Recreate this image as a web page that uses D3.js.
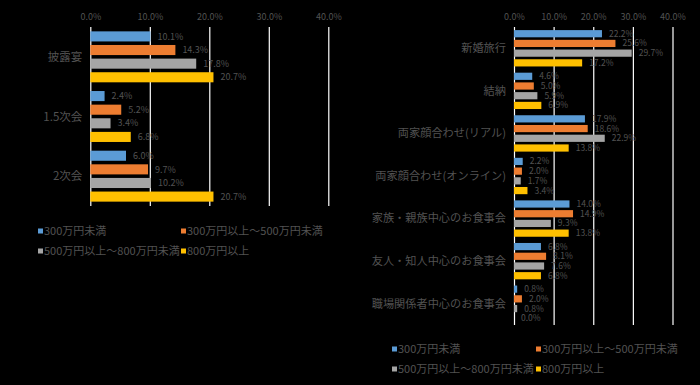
<!DOCTYPE html>
<html>
<head>
  <meta charset="utf-8">
  <style type="text/css">
    html, body { margin: 0; padding: 0; background: #000; }
    svg { display: block; }
    text { font-family: "Noto Sans CJK JP", "Liberation Sans", sans-serif; fill: #525252; }
  </style>
  <script src="https://d3js.org/d3.v7.min.js"></script>
</head>
<body>
  <div id="chart"></div>
  <script>
    // 共通の系列
    var seriesNames = ["300万円未満", "300万円以上～500万円未満", "500万円以上～800万円未満", "800万円以上"];
    var seriesColors = ["#5B9BD5", "#ED7D31", "#A5A5A5", "#FFC000"];
    var xTicks = [0, 10, 20, 30, 40];

    // 左のグラフ
    var leftCategories = ["披露宴", "1.5次会", "2次会"];
    var left300 = [10.1, 2.4, 6.0];
    var left500 = [14.3, 5.2, 9.7];
    var left800 = [17.8, 3.4, 10.2];
    var leftOver = [20.7, 6.8, 20.7];

    // 右のグラフ
    var rightCategories = ["新婚旅行", "結納", "両家顔合わせ(リアル)", "両家顔合わせ(オンライン)",
      "家族・親族中心のお食事会", "友人・知人中心のお食事会", "職場関係者中心のお食事会"];
    var right300 = [22.2, 4.6, 17.9, 2.2, 14.0, 6.8, 0.8];
    var right500 = [25.6, 5.0, 18.6, 2.0, 14.9, 8.1, 2.0];
    var right800 = [29.7, 5.9, 22.9, 1.7, 9.3, 7.6, 0.8];
    var rightOver = [17.2, 6.9, 13.8, 3.4, 13.8, 6.8, 0.0];

    var svg = d3.select("#chart").append("svg")
      .attr("width", 700)
      .attr("height", 385);

    function drawChart(opt) {
      var cats = opt.categories;
      var values = opt.values;

      var x = d3.scaleLinear().domain([0, 40]).range([opt.x0, opt.x1]);
      var y = d3.scaleBand().domain(cats).range([opt.y0, opt.y1]);
      var ySub = d3.scaleBand().domain(d3.range(4)).range([0, y.bandwidth()])
        .paddingInner(0.26).paddingOuter(0.32);

      var g = svg.append("g");

      // 目盛りとグリッド
      var axis = g.append("g")
        .attr("transform", "translate(0," + opt.y0 + ")")
        .call(d3.axisTop(x).tickValues(xTicks).tickSize(-(opt.y1 - opt.y0)).tickPadding(7)
          .tickFormat(function (d) { return d3.format(".1f")(d) + "%"; }));
      axis.select(".domain").remove();
      axis.selectAll("line").attr("stroke", "#ffffff").attr("stroke-width", 1.2);
      axis.selectAll("text").attr("font-size", 9).style("fill", "#525252");

      // 棒
      var rows = [];
      cats.forEach(function (c, i) {
        values.forEach(function (s, j) {
          rows.push({ cat: c, s: j, v: s[i] });
        });
      });

      g.selectAll(".bar")
        .data(rows)
        .join("rect")
        .attr("class", "bar")
        .attr("x", x(0))
        .attr("y", function (d) { return y(d.cat) + ySub(d.s); })
        .attr("width", function (d) { return x(d.v) - x(0); })
        .attr("height", ySub.bandwidth())
        .attr("fill", function (d) { return seriesColors[d.s]; });

      g.selectAll(".val")
        .data(rows)
        .join("text")
        .attr("class", "val")
        .attr("x", function (d) { return x(d.v) + 7; })
        .attr("y", function (d) { return y(d.cat) + ySub(d.s) + ySub.bandwidth() / 2; })
        .attr("dy", "0.35em")
        .attr("font-size", opt.valSize)
        .text(function (d) { return d3.format(".1f")(d.v) + "%"; });

      // 項目名
      g.selectAll(".cat")
        .data(cats)
        .join("text")
        .attr("class", "cat")
        .attr("x", x(0) - 8)
        .attr("y", function (d) { return y(d) + y.bandwidth() / 2; })
        .attr("dy", "0.35em")
        .attr("text-anchor", "end")
        .attr("font-size", opt.catSize)
        .text(function (d) { return d; });

      // 凡例
      var leg = g.selectAll(".leg")
        .data(seriesNames)
        .join("g")
        .attr("class", "leg")
        .attr("transform", function (d, i) {
          return "translate(" + opt.legX[i % 2] + "," + opt.legY[Math.floor(i / 2)] + ")";
        });
      leg.append("rect")
        .attr("x", 0).attr("y", -2.5)
        .attr("width", 5).attr("height", 5)
        .attr("fill", function (d, i) { return seriesColors[i]; });
      leg.append("text")
        .attr("x", 6)
        .attr("dy", "0.35em")
        .attr("font-size", 11)
        .text(function (d) { return d; });
    }

    drawChart({
      categories: leftCategories,
      values: [left300, left500, left800, leftOver],
      x0: 90.3, x1: 328.3, y0: 27, y1: 206,
      legX: [38, 181], legY: [231, 251],
      valSize: 9, catSize: 11.5
    });

    drawChart({
      categories: rightCategories,
      values: [right300, right500, right800, rightOver],
      x0: 514, x1: 672.5, y0: 27, y1: 325,
      legX: [392, 536], legY: [349, 369],
      valSize: 8.5, catSize: 11.2
    });
  </script>
</body>
</html>
